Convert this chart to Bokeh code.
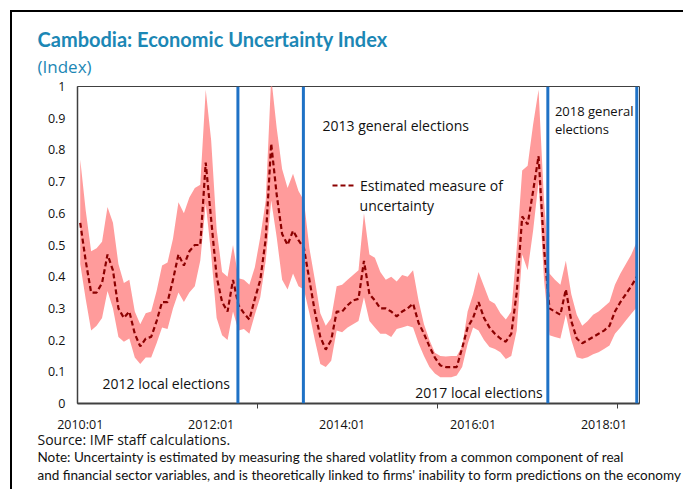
from bokeh.plotting import figure
from bokeh.layouts import column, row
from bokeh.models import (FixedTicker, LinearAxis, Range1d, Span, Title, Legend, LegendItem, Div, Spacer)
from bokeh.core.properties import value
from bokeh.embed import file_html
from bokeh.resources import INLINE

# ---------------- data ----------------
x_tick_labels = ["2010:01", "2012:01", "2014:01", "2016:01", "2018:01"]
x_label_months = [0, 24, 48, 72, 96]          # month index of each label (2010:01 = 0)
x_tick_marks = [32.5, 65.5, 98.5]             # tick marks of the category axis
y_ticks = [0, 0.1, 0.2, 0.3, 0.4, 0.5, 0.6, 0.7, 0.8, 0.9, 1]
y_tick_labels = ["0", "0.1", "0.2", "0.3", "0.4", "0.5", "0.6", "0.7", "0.8", "0.9", "1"]

# Estimated measure of uncertainty, monthly 2010:01 - 2018:07
uncertainty = [
    0.57, 0.45, 0.35, 0.35, 0.38, 0.47, 0.42, 0.30, 0.27, 0.29,
    0.22, 0.18, 0.205, 0.21, 0.26, 0.32, 0.32, 0.39, 0.47, 0.435,
    0.48, 0.50, 0.50, 0.76, 0.58, 0.40, 0.32, 0.29, 0.39, 0.31,
    0.285, 0.265, 0.33, 0.39, 0.52, 0.82, 0.66, 0.535, 0.50, 0.545,
    0.515, 0.49, 0.39, 0.29, 0.21, 0.17, 0.20, 0.29, 0.29, 0.31,
    0.325, 0.33, 0.45, 0.345, 0.325, 0.30, 0.30, 0.29, 0.275, 0.29,
    0.30, 0.315, 0.255, 0.22, 0.18, 0.145, 0.12, 0.115, 0.115, 0.115,
    0.175, 0.24, 0.27, 0.32, 0.27, 0.24, 0.22, 0.205, 0.195, 0.22,
    0.35, 0.59, 0.565, 0.67, 0.78, 0.49, 0.30, 0.29, 0.28, 0.36,
    0.26, 0.205, 0.19, 0.20, 0.21, 0.22, 0.23, 0.245, 0.29, 0.32,
    0.345, 0.37, 0.40,
]
upper = [
    0.77, 0.61, 0.48, 0.49, 0.51, 0.62, 0.57, 0.44, 0.38, 0.39,
    0.29, 0.25, 0.285, 0.29, 0.355, 0.435, 0.445, 0.52, 0.635, 0.60,
    0.65, 0.68, 0.69, 0.99, 0.83, 0.55, 0.415, 0.40, 0.50, 0.395,
    0.39, 0.375, 0.43, 0.525, 0.64, 1.03, 0.87, 0.74, 0.68, 0.725,
    0.67, 0.64, 0.49, 0.39, 0.285, 0.245, 0.27, 0.37, 0.375, 0.39,
    0.405, 0.42, 0.60, 0.47, 0.46, 0.415, 0.39, 0.40, 0.385, 0.405,
    0.40, 0.42, 0.325, 0.25, 0.20, 0.16, 0.15, 0.148, 0.15, 0.15,
    0.18, 0.29, 0.345, 0.415, 0.37, 0.325, 0.315, 0.285, 0.265, 0.29,
    0.49, 0.735, 0.75, 0.88, 0.99, 0.64, 0.41, 0.39, 0.375, 0.45,
    0.345, 0.28, 0.245, 0.26, 0.28, 0.29, 0.305, 0.32, 0.375, 0.41,
    0.44, 0.47, 0.51,
]
lower = [
    0.44, 0.33, 0.23, 0.245, 0.27, 0.355, 0.30, 0.21, 0.195, 0.205,
    0.145, 0.125, 0.145, 0.145, 0.19, 0.24, 0.235, 0.30, 0.35, 0.32,
    0.35, 0.37, 0.45, 0.63, 0.47, 0.27, 0.215, 0.20, 0.29, 0.23,
    0.235, 0.22, 0.28, 0.335, 0.45, 0.64, 0.525, 0.39, 0.36, 0.41,
    0.37, 0.36, 0.285, 0.20, 0.125, 0.115, 0.135, 0.23, 0.225, 0.24,
    0.25, 0.26, 0.335, 0.26, 0.24, 0.22, 0.22, 0.21, 0.235, 0.24,
    0.245, 0.24, 0.19, 0.15, 0.115, 0.095, 0.083, 0.083, 0.083, 0.088,
    0.115, 0.188, 0.24, 0.23, 0.20, 0.178, 0.172, 0.162, 0.14, 0.15,
    0.23, 0.47, 0.42, 0.545, 0.70, 0.39, 0.215, 0.21, 0.205, 0.28,
    0.20, 0.146, 0.141, 0.146, 0.155, 0.162, 0.172, 0.183, 0.22, 0.24,
    0.262, 0.283, 0.304,
]
months = list(range(len(uncertainty)))

event_labels = ["2012 local elections", "2013 general elections",
                "2017 local elections", "2018 general elections"]
event_months = [28.9, 40.9, 85.7, 102.0]

# ---------------- styling ----------------
TEAL = "#1c87b5"
BAND = "#ff9b9b"
LINE = "#8b0000"
BLUE = "#1f72c6"
AX = "#404040"
FONT = "Open Sans"
W, H = 671, 477

p = figure(width=W, height=H,
           x_range=Range1d(-0.5, 102.5), y_range=Range1d(0, 1),
           output_backend="svg", toolbar_location=None,
           min_border_left=65, min_border_right=44,
           min_border_top=74, min_border_bottom=86)
p.xgrid.visible = False
p.ygrid.visible = False
p.outline_line_color = AX
p.outline_line_width = 1

band = p.varea(x=months, y1=lower, y2=upper, fill_color=BAND, fill_alpha=1.0)
ln = p.line(months, uncertainty, line_color=LINE, line_width=2.2, line_dash="5 3")

for m in event_months:
    p.add_layout(Span(location=m, dimension="height", line_color=BLUE, line_width=3))

# y axis
p.yaxis.ticker = FixedTicker(ticks=y_ticks)
p.yaxis.major_label_overrides = dict(zip(y_ticks, y_tick_labels))
p.yaxis.major_tick_out = 0
p.yaxis.major_tick_in = 0
p.yaxis.minor_tick_out = 0
p.yaxis.minor_tick_in = 0
p.yaxis.axis_line_color = AX
p.yaxis.axis_line_width = 1.5
p.yaxis.major_label_standoff = 12
p.yaxis.major_label_text_font = FONT
p.yaxis.major_label_text_font_size = "12.5px"
p.yaxis.major_label_text_color = "#111"

# x axis: tick marks only
p.xaxis.ticker = FixedTicker(ticks=x_tick_marks)
p.xaxis.major_label_overrides = {t: "" for t in x_tick_marks}
p.xaxis.major_label_text_font_size = "1px"
p.xaxis.major_label_standoff = 0
p.xaxis.major_tick_out = 5
p.xaxis.major_tick_in = 0
p.xaxis.minor_tick_out = 0
p.xaxis.minor_tick_in = 0
p.xaxis.axis_line_color = AX
p.xaxis.axis_line_width = 2
p.xaxis.major_tick_line_color = AX

# x axis: labels
xl = LinearAxis(ticker=FixedTicker(ticks=x_label_months),
                major_label_overrides=dict(zip(x_label_months, x_tick_labels)),
                axis_line_color=None, major_tick_line_color=None,
                minor_tick_line_color=None, major_tick_out=0, major_tick_in=0,
                major_label_standoff=7,
                major_label_text_font=FONT, major_label_text_font_size="12.5px",
                major_label_text_color="#111")
p.add_layout(xl, "below")

# legend
legend = Legend(items=[LegendItem(label="Estimated measure of", renderers=[ln])],
                location=(255, 208), padding=0, margin=0, spacing=0,
                glyph_width=24, glyph_height=20, label_height=20, label_standoff=4,
                border_line_color=None, background_fill_alpha=0,
                label_text_font=FONT, label_text_font_size="14px",
                label_text_color="#111")
p.add_layout(legend)
p.text(x=[51.2], y=[0.625], text=["uncertainty"], text_font=value(FONT),
       text_font_size="14px", text_baseline="middle", text_color="#111")

# event annotations inside the plot
p.text(x=[4.1, 44.4, 61.4], y=[0.063, 0.877, 0.035],
       text=["2012 local elections", "2013 general elections", "2017 local elections"],
       text_font=value(FONT), text_font_size="14px", text_baseline="middle",
       text_color="#111")
p.text(x=[87.0, 87.0], y=[0.924, 0.867], text=["2018 general", "elections"],
       text_font=value(FONT), text_font_size="13px", text_baseline="middle",
       text_color="#111")

# titles above (first added is closest to the frame)
p.add_layout(Title(text="(Index)", align="left", offset=-40, standoff=17,
                   text_font=FONT, text_font_size="17px", text_font_style="normal",
                   text_color=TEAL), "above")
p.add_layout(Title(text="Cambodia: Economic Uncertainty Index", align="left", offset=-40,
                   standoff=-13, text_font="Lato", text_font_size="20px",
                   text_font_style="bold", text_color=TEAL), "above")

# source and note below
p.add_layout(Title(text="Source: IMF staff calculations.", align="left", offset=-40,
                   standoff=-16, text_font=FONT, text_font_size="14px",
                   text_font_style="normal", text_color="#111"), "below")
p.add_layout(Title(text="Note: Uncertainty is estimated by measuring the shared volatlity from a common component of real",
                   align="left", offset=-40, standoff=13, text_font="Lato",
                   text_font_size="13.5px", text_font_style="normal", text_color="#111"), "below")
p.add_layout(Title(text="and financial sector variables, and is theoretically linked to firms' inability to form predictions on the economy",
                   align="left", offset=-40, standoff=-13, text_font="Lato",
                   text_font_size="13.5px", text_font_style="normal", text_color="#111"), "below")

# black frame round the figure (left and top edges)
top_bar = Div(text="", width=W + 2, height=2, margin=0,
              styles={"background-color": "#000"})
left_bar = Div(text="", width=2, height=H, margin=0,
               styles={"background-color": "#000"})
layout = column(Spacer(height=10, width=10, margin=0),
                row(Spacer(width=10, height=10, margin=0),
                    column(top_bar, row(left_bar, p, spacing=0), spacing=0),
                    spacing=0),
                spacing=0)

open("out.html", "w").write(file_html(layout, INLINE))
